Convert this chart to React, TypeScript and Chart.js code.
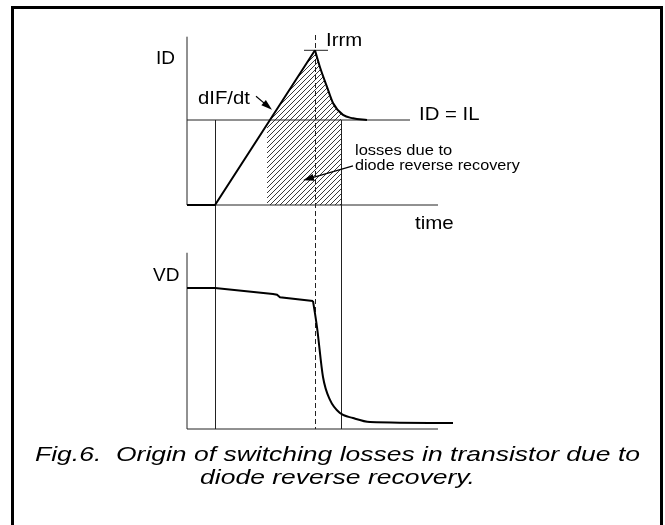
import { useEffect, useRef } from "react";
import { Chart, registerables } from "chart.js";
Chart.register(...registerables);

// ---- data (time in arbitrary units; ID in units of IL; VD in units of off-state voltage) ----
const rampTime = [0, 2.8, 12.8];
const rampCurrent = [0, 0, 1.82];
const decayTime = [12.8, 13.3, 14.0, 14.6, 15.6, 16.6, 18.0];
const decayCurrent = [1.82, 1.62, 1.39, 1.2, 1.06, 1.02, 1.0];
const lossTime = [8.0, 8.0, 12.8, 13.3, 14.0, 14.6, 15.4, 15.4];
const lossCurrent = [0, 0.95, 1.82, 1.62, 1.39, 1.2, 1.08, 0];
const vdTime = [0, 2.8, 8.6, 9.0, 9.3, 12.6];
const vdValue = [1.0, 1.0, 0.957, 0.952, 0.935, 0.908];
const vdFallTime = [12.6, 13.0, 13.6, 14.3, 15.3, 16.6, 18.3, 26.6];
const vdFallValue = [0.908, 0.723, 0.369, 0.206, 0.113, 0.078, 0.05, 0.043];
const loadCurrent = 1; // IL
const tOn = 2.8;
const tPeak = 12.8;
const tOff = 15.4;
const timeAxisEnd = 25.1;
const ilLineEnd = 22.3;
const idAxisTop = 1.98;
const vdAxisTop = 1.25;
const irrmBar = [11.7, 14.1];
const peakGuideTop = 2.0;

const captionLines = [
  "Fig.6.  Origin of switching losses in transistor due to",
  "diode reverse recovery.",
];

// ---- layout (pixels) ----
const W = 665;
const H = 525;
const ORIGIN_X = 187;
const PX_PER_T = 10;
const ID_ZERO_Y = 205;
const PX_PER_ID = 85;
const VD_ZERO_Y = 429;
const PX_PER_VD = 141;
const CAPTION_WIDTH = 605;
const CAPTION_CENTER = 337.5;

const pts = (xs: number[], ys: number[]) => xs.map((x, i) => ({ x, y: ys[i] }));

export default function App() {
  const ref = useRef<HTMLCanvasElement | null>(null);
  useEffect(() => {
    const canvas = ref.current!;
    const pc = document.createElement("canvas");
    pc.width = 5;
    pc.height = 5;
    const p = pc.getContext("2d")!;
    p.strokeStyle = "#222";
    p.lineWidth = 0.9;
    p.beginPath();
    p.moveTo(-1, 6);
    p.lineTo(6, -1);
    p.moveTo(-1, 1);
    p.lineTo(1, -1);
    p.moveTo(4, 6);
    p.lineTo(6, 4);
    p.stroke();
    const hatch = canvas.getContext("2d")!.createPattern(pc, "repeat")!;

    const font = '"Liberation Sans", Arial, sans-serif';

    const deco = {
      id: "deco",
      beforeDatasetsDraw(chart: any) {
        const c = chart.ctx;
        const x = chart.scales.x;
        const yi = chart.scales.yI;
        const yv = chart.scales.yV;
        c.save();
        c.strokeStyle = "#222";
        c.lineWidth = 1;
        const vline = (t: number, i0: number, dash: number[]) => {
          c.setLineDash(dash);
          c.beginPath();
          c.moveTo(Math.round(x.getPixelForValue(t)) + 0.5, yi.getPixelForValue(i0));
          c.lineTo(Math.round(x.getPixelForValue(t)) + 0.5, yv.getPixelForValue(0));
          c.stroke();
        };
        vline(tOn, loadCurrent, []);
        vline(tOff, loadCurrent, []);
        vline(tPeak, peakGuideTop, [5, 3]);
        c.restore();
      },
      afterDatasetsDraw(chart: any) {
        const c = chart.ctx;
        const x = chart.scales.x;
        const yi = chart.scales.yI;
        const yv = chart.scales.yV;
        c.save();
        // frame
        c.fillStyle = "#000";
        c.fillRect(11, 6, 3, H);
        c.fillRect(11, 6, 652, 3);
        c.fillRect(660, 6, 3, H);
        // arrows
        const arrow = (t0: number, i0: number, t1: number, i1: number) => {
          const x0 = x.getPixelForValue(t0), y0 = yi.getPixelForValue(i0);
          const x1 = x.getPixelForValue(t1), y1 = yi.getPixelForValue(i1);
          const a = Math.atan2(y1 - y0, x1 - x0);
          c.strokeStyle = "#000";
          c.lineWidth = 1.2;
          c.beginPath();
          c.moveTo(x0, y0);
          c.lineTo(x1 - 8 * Math.cos(a), y1 - 8 * Math.sin(a));
          c.stroke();
          c.beginPath();
          c.moveTo(x1, y1);
          c.lineTo(x1 - 11 * Math.cos(a) + 3.5 * Math.sin(a), y1 - 11 * Math.sin(a) - 3.5 * Math.cos(a));
          c.lineTo(x1 - 11 * Math.cos(a) - 3.5 * Math.sin(a), y1 - 11 * Math.sin(a) + 3.5 * Math.cos(a));
          c.closePath();
          c.fill();
        };
        arrow(6.9, 1.28, 8.5, 1.12);
        arrow(16.6, 0.46, 11.6, 0.29);
        // labels
        c.fillStyle = "#000";
        c.textAlign = "left";
        c.textBaseline = "alphabetic";
        const txt = (s: string, t: number, v: number, size: number, axis: any, sx = 1.07) => {
          c.save();
          c.font = `${size}px ${font}`;
          c.translate(x.getPixelForValue(t), axis.getPixelForValue(v));
          c.scale(sx, 1);
          c.fillText(s, 0, 0);
          c.restore();
        };
        txt("ID", -3.1, 1.66, 19, yi, 1.0);
        txt("Irrm", 13.9, 1.87, 19, yi);
        txt("dIF/dt", 1.1, 1.19, 19, yi);
        txt("ID = IL", 23.2, 1.0, 19, yi);
        txt("losses due to", 16.8, 0.59, 15, yi, 1.1);
        txt("diode reverse recovery", 16.8, 0.41, 15, yi, 1.08);
        txt("time", 22.8, -0.28, 19, yi, 1.08);
        txt("VD", -3.4, 1.05, 19, yv, 1.0);
        // caption
        c.font = `italic 21px ${font}`;
        c.textAlign = "center";
        const sx = CAPTION_WIDTH / c.measureText(captionLines[0]).width;
        const base = [461, 484];
        captionLines.forEach((s, i) => {
          c.save();
          c.translate(CAPTION_CENTER, base[i]);
          c.scale(sx, 1);
          c.fillText(s, 0, 0);
          c.restore();
        });
        c.restore();
      },
    };

    const line = (data: any[], axis: string, width: number, extra: any = {}) => ({
      data,
      yAxisID: axis,
      showLine: true,
      borderColor: "#000",
      borderWidth: width,
      pointRadius: 0,
      fill: false,
      clip: false,
      ...extra,
    });

    const chart = new Chart(canvas, {
      type: "scatter",
      data: {
        datasets: [
          line(pts(rampTime, rampCurrent), "yI", 2),
          line(pts(decayTime, decayCurrent), "yI", 2, { cubicInterpolationMode: "monotone" }),
          line(pts(vdTime, vdValue), "yV", 2),
          line(pts(vdFallTime, vdFallValue), "yV", 2, { cubicInterpolationMode: "monotone" }),
          line(pts([0, 0], [0, idAxisTop]), "yI", 1, { borderColor: "#222" }),
          line(pts([0, timeAxisEnd], [0, 0]), "yI", 1, { borderColor: "#222" }),
          line(pts([0, ilLineEnd], [loadCurrent, loadCurrent]), "yI", 1, { borderColor: "#222" }),
          line(pts(irrmBar, [rampCurrent[2], rampCurrent[2]]), "yI", 1, { borderColor: "#222" }),
          line(pts([0, 0], [0, vdAxisTop]), "yV", 1, { borderColor: "#222" }),
          line(pts([0, timeAxisEnd], [0, 0]), "yV", 1, { borderColor: "#222" }),
          line(pts(lossTime, lossCurrent), "yI", 0, { fill: "origin", backgroundColor: hatch, borderWidth: 0 }),
        ],
      },
      options: {
        responsive: false,
        animation: false,
        events: [],
        layout: { padding: 0 },
        plugins: { legend: { display: false }, tooltip: { enabled: false }, title: { display: false } },
        scales: {
          x: { type: "linear", display: false, min: -ORIGIN_X / PX_PER_T, max: (W - ORIGIN_X) / PX_PER_T },
          yI: { type: "linear", display: false, min: (ID_ZERO_Y - H) / PX_PER_ID, max: ID_ZERO_Y / PX_PER_ID },
          yV: { type: "linear", display: false, min: (VD_ZERO_Y - H) / PX_PER_VD, max: VD_ZERO_Y / PX_PER_VD },
        },
      },
      plugins: [deco],
    } as any);
    return () => chart.destroy();
  }, []);
  return (
    <canvas
      ref={ref}
      width={W}
      height={H}
      style={{ position: "absolute", left: 0, top: 0, width: W, height: H, background: "#fff" }}
    />
  );
}
